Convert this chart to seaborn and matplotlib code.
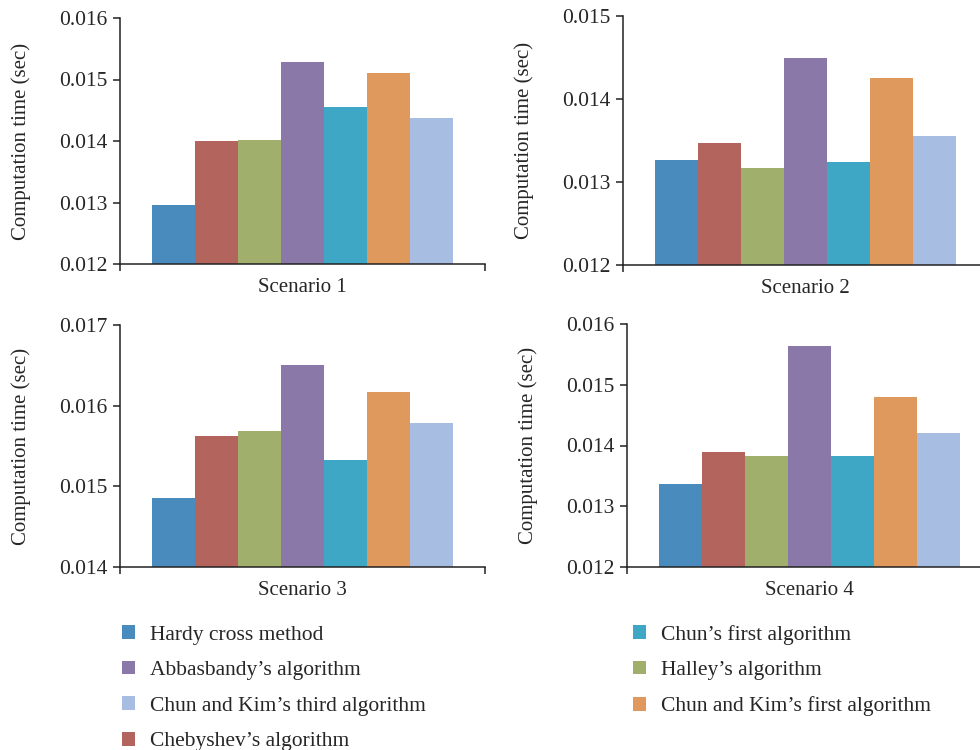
import matplotlib
matplotlib.use('Agg')
import matplotlib.pyplot as plt
from matplotlib.patches import Patch
import pandas as pd
import seaborn as sns

# bar order inside each scenario
methods = ["Hardy cross method", "Chebyshev\u2019s algorithm", "Halley\u2019s algorithm",
           "Abbasbandy\u2019s algorithm", "Chun\u2019s first algorithm",
           "Chun and Kim\u2019s first algorithm", "Chun and Kim\u2019s third algorithm"]
colors = ["#4A8BBE", "#B3645C", "#A0AF6B", "#8A78A8", "#3EA7C5", "#DF995D", "#A7BEE2"]

scenarios = ["Scenario 1", "Scenario 2", "Scenario 3", "Scenario 4"]
s1 = [0.01296, 0.01400, 0.01402, 0.01528, 0.01455, 0.01510, 0.01437]
s2 = [0.01327, 0.01347, 0.01317, 0.01449, 0.01324, 0.01425, 0.01355]
s3 = [0.01486, 0.01562, 0.01568, 0.01651, 0.01533, 0.01617, 0.01578]
s4 = [0.01336, 0.01390, 0.01383, 0.01564, 0.01383, 0.01480, 0.01420]
ylims = [(0.012, 0.016), (0.012, 0.015), (0.014, 0.017), (0.012, 0.016)]

# legend order (column-wise, as in the figure)
legend_order = [0, 3, 6, 1, 4, 2, 5]

rows = []
for sc, vals in zip(scenarios, [s1, s2, s3, s4]):
    for m, v in zip(methods, vals):
        rows.append({'scenario': sc, 'method': m, 'time': v})
df = pd.DataFrame(rows)

sns.set_theme(style='ticks')
plt.rcParams['font.family'] = ['Liberation Serif', 'DejaVu Serif']

fig = plt.figure(figsize=(9.8, 7.5), dpi=100)
W, H = 980, 750
# axes boxes in pixels: left, top, bottom
boxes = [(120, 18, 264), (623, 16, 265), (120, 325, 567), (627, 324, 567)]

for i, sc in enumerate(scenarios):
    l, t, b = boxes[i]
    ax = fig.add_axes([l / W, (H - b) / H, 365 / W, (b - t) / H])
    sub = df[df['scenario'] == sc]
    sns.barplot(data=sub, x='scenario', y='time', hue='method', hue_order=methods,
                palette=colors, saturation=1, width=0.825, errorbar=None,
                legend=False, linewidth=0, ax=ax)
    lo, hi = ylims[i]
    ax.set_ylim(lo, hi)
    ax.set_yticks([round(lo + 0.001 * k, 3) for k in range(int(round((hi - lo) / 0.001)) + 1)])
    ax.yaxis.set_major_formatter(plt.FormatStrFormatter('%.3f'))
    ax.set_xlim(-0.5, 0.5)
    ax.set_xticks([-0.5, 0.5], minor=True)
    ax.tick_params(axis='x', which='major', length=0, pad=10, labelsize=15)
    ax.tick_params(axis='x', which='minor', length=5, width=1.1, color='#222222')
    ax.tick_params(axis='y', length=5, width=1.1, color='#222222', labelsize=15.5, pad=4)
    ax.set_xlabel('')
    ax.set_ylabel('Computation time (sec)', fontsize=15, labelpad=20)
    sns.despine(ax=ax)
    for s in ['left', 'bottom']:
        ax.spines[s].set_linewidth(1.1)
        ax.spines[s].set_color('#222222')

handles = [Patch(facecolor=colors[k], edgecolor='none', label=methods[k]) for k in legend_order]
fig.legend(handles=handles, ncol=2, loc='upper left', bbox_to_anchor=(111 / W, (H - 614) / H),
           frameon=False, fontsize=15.5, borderpad=0, handlelength=0.6, handleheight=0.6,
           handletextpad=0.7, labelspacing=0.75, columnspacing=9.65)

fig.savefig('out.png', dpi=100)
